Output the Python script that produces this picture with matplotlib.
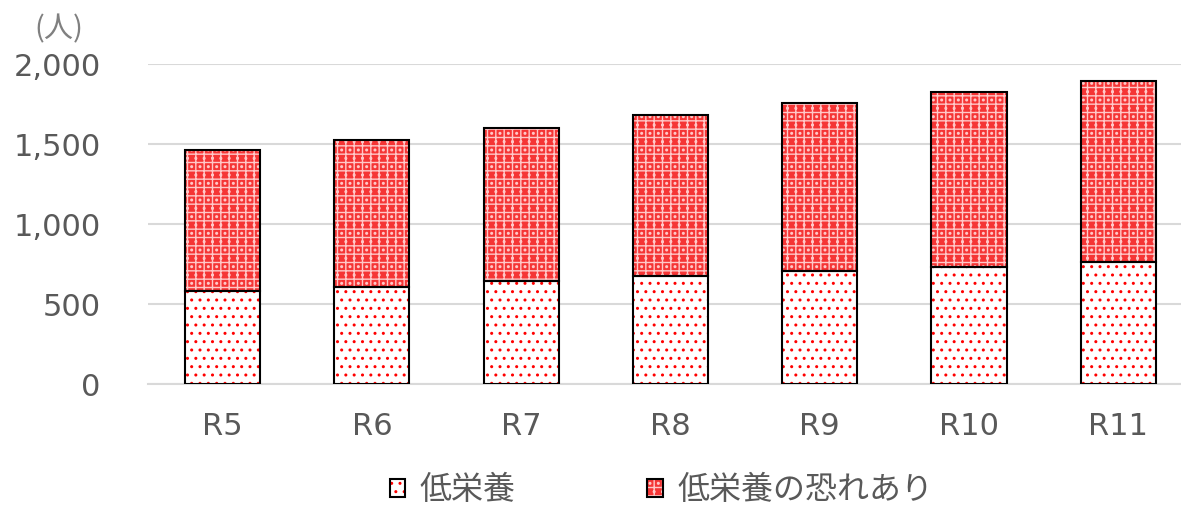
import matplotlib.pyplot as plt
from matplotlib.patches import Patch

plt.rcParams["font.family"] = ["DejaVu Sans", "Noto Sans CJK JP"]

# ========================== Data ============================== #
years = ["R5", "R6", "R7", "R8", "R9", "R10", "R11"]
low_nutrition = [581, 606, 644, 675, 706, 731, 762]
risk_low_nutrition = [881, 919, 956, 1006, 1050, 1094, 1132]

series_labels = ["低栄養", "低栄養の恐れあり"]
text_color = "#595959"
grid_color = "#d9d9d9"
upper_color = "#f53535"

fig = plt.figure(figsize=(11.81, 5.05), dpi=100)
ax = fig.add_axes([148 / 1181, 1 - 384 / 505, 1033 / 1181, 320 / 505])

x = range(len(years))
width = 0.503

# lower part: white with red dots
ax.bar(x, low_nutrition, width, color="white", edgecolor="red", hatch="..", linewidth=0, zorder=2)
ax.bar(x, low_nutrition, width, fill=False, edgecolor="black", linewidth=1.5, zorder=3)

# upper part: red checker with white dots
ax.bar(x, risk_low_nutrition, width, bottom=low_nutrition, color=upper_color,
       edgecolor="#ffc8c8", hatch="++..", linewidth=0, zorder=2)
ax.bar(x, risk_low_nutrition, width, bottom=low_nutrition, fill=False,
       edgecolor="black", linewidth=1.5, zorder=3)

ax.set_xlim(-0.5, 6.42)
ax.set_ylim(0, 2000)
ax.set_yticks([0, 500, 1000, 1500, 2000])
ax.set_yticklabels(["0", "500", "1,000", "1,500", "2,000"])
ax.set_xticks(list(x))
ax.set_xticklabels(years)
ax.tick_params(axis="both", length=0, labelsize=22, labelcolor=text_color)
ax.tick_params(axis="x", pad=20)
ax.tick_params(axis="y", pad=34)

ax.grid(axis="y", color=grid_color, linewidth=1.5, zorder=0)
for side in ["top", "right", "left"]:
    ax.spines[side].set_visible(False)
ax.spines["bottom"].set_color(grid_color)
ax.spines["bottom"].set_linewidth(1.5)

fig.text(59 / 1181, 1 - 29 / 505, "(人)", fontsize=21, color="#808080", ha="center", va="center",
         family=["Noto Sans CJK JP", "DejaVu Sans"])

handles = [
    (Patch(facecolor="white", edgecolor="red", hatch="..", linewidth=0),
     Patch(fill=False, edgecolor="black", linewidth=1.5)),
    (Patch(facecolor=upper_color, edgecolor="#ffc8c8", hatch="++..", linewidth=0),
     Patch(fill=False, edgecolor="black", linewidth=1.5)),
]
leg = fig.legend(handles, series_labels, loc="center", bbox_to_anchor=(0.56, 1 - 490 / 505),
                 ncol=2, frameon=False, prop={"family": "Noto Sans CJK JP", "size": 23},
                 handlelength=0.5, handleheight=0.5, handletextpad=0.45, columnspacing=4.1)
for t in leg.get_texts():
    t.set_color(text_color)

plt.savefig("out.png", format="png")
plt.close()
